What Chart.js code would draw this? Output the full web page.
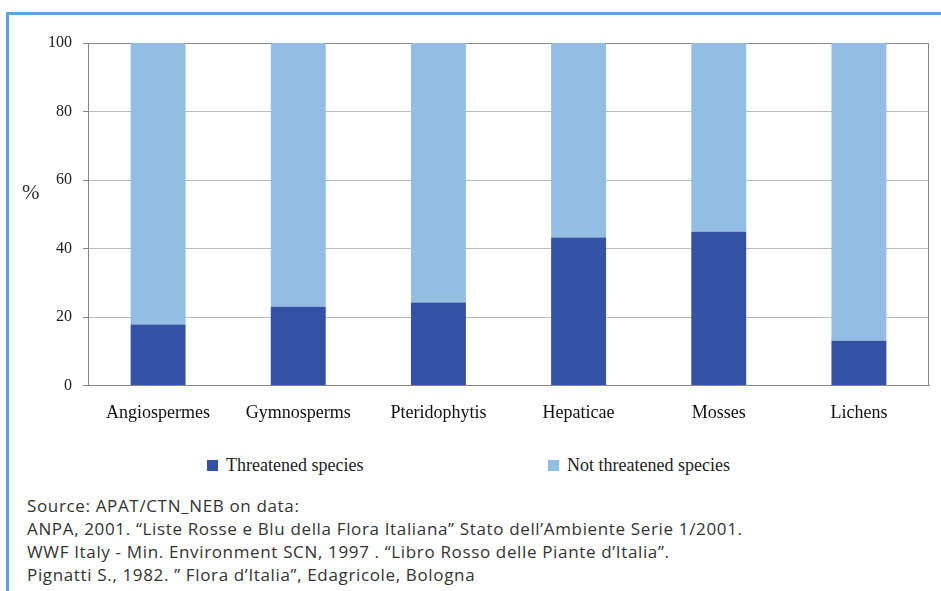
<!DOCTYPE html>
<html>
<head>
<meta charset="utf-8">
<script src="https://cdn.jsdelivr.net/npm/chart.js@4.4.1/dist/chart.umd.min.js"></script>
<style>
body { margin: 0; background: #fff; }
#page { position: relative; width: 941px; height: 591px; overflow: hidden; background: #fff; }
#frameTop { position: absolute; left: 6px; top: 12px; right: 0; height: 3px; background: #5aa5da; }
#frameLeft { position: absolute; left: 6px; top: 12px; bottom: 0; width: 3px; background: #5aa5da; }
#chartBox { position: absolute; left: 0; top: 0; width: 941px; height: 440px; }
#ylab { position: absolute; left: 22px; top: 180px; font: 21px "Liberation Serif", serif; color: #333; }
#legend { position: absolute; left: 0; top: 454px; width: 941px; height: 24px; font: 18px "Liberation Serif", serif; color: #222; }
.item { position: absolute; top: 0; line-height: 22px; white-space: nowrap; }
.box { display: inline-block; width: 11px; height: 11px; margin-right: 8px; vertical-align: 0px; }
#source { position: absolute; left: 27px; top: 494px; font: 17px "Open Sans", sans-serif; letter-spacing: 0.65px; line-height: 23px; color: #333; white-space: nowrap; }
</style>
</head>
<body>
<div id="page">
  <div id="frameTop"></div>
  <div id="frameLeft"></div>
  <div id="chartBox"><canvas id="chart" width="941" height="440"></canvas></div>
  <div id="ylab">%</div>
  <div id="legend"></div>
  <div id="source">
    Source: APAT/CTN_NEB on data:<br>
    ANPA, 2001. “Liste Rosse e Blu della Flora Italiana” Stato dell’Ambiente Serie 1/2001.<br>
    WWF Italy - Min. Environment SCN, 1997 . “Libro Rosso delle Piante d’Italia”.<br>
    Pignatti S., 1982. ” Flora d’Italia”, Edagricole, Bologna
  </div>
</div>
<script>
var categories = ['Angiospermes', 'Gymnosperms', 'Pteridophytis', 'Hepaticae', 'Mosses', 'Lichens'];
var threatened = [17.8, 23.0, 24.2, 43.2, 44.9, 13.1];
var notThreatened = [82.2, 77.0, 75.8, 56.8, 55.1, 86.9];
var seriesNames = ['Threatened species', 'Not threatened species'];
var yMin = 0;
var yMax = 100;
var yStep = 20;

var darkBlue = '#3352a6';
var lightBlue = '#93bee3';

// right edge of the plot frame
var rightFrame = {
	id: 'rightFrame',
	afterDraw: function(chart) {
		var a = chart.chartArea;
		var c = chart.ctx;
		c.save();
		c.strokeStyle = '#888';
		c.lineWidth = 1;
		c.beginPath();
		c.moveTo(a.right - 0.5, a.top);
		c.lineTo(a.right - 0.5, a.bottom);
		c.stroke();
		c.restore();
	}
};

var ctx = document.getElementById('chart').getContext('2d');
var myChart = new Chart(ctx, {
	type: 'bar',
	data: {
		labels: categories,
		datasets: [{
			label: seriesNames[0],
			data: threatened,
			backgroundColor: darkBlue,
			barPercentage: 0.392,
			categoryPercentage: 1
		}, {
			label: seriesNames[1],
			data: notThreatened,
			backgroundColor: lightBlue,
			barPercentage: 0.392,
			categoryPercentage: 1
		}]
	},
	options: {
		responsive: false,
		animation: false,
		layout: { padding: { top: 43, right: 12, left: 0, bottom: 0 } },
		plugins: {
			legend: { display: false },
			tooltip: { enabled: false }
		},
		scales: {
			x: {
				stacked: true,
				grid: { display: false, drawTicks: false },
				border: { display: true, color: '#888', width: 1 },
				ticks: {
					color: '#111',
					padding: 17,
					font: { family: 'Liberation Serif', size: 18 }
				},
				afterFit: function(scale) { scale.height = 54.5; }
			},
			y: {
				stacked: true,
				min: yMin,
				max: yMax,
				grid: {
					color: function(c) { return (c.tick && (c.tick.value === yMax || c.tick.value === yMin)) ? '#888' : '#bbb'; },
					tickColor: '#888',
					tickLength: 5
				},
				border: { color: '#888', width: 1 },
				ticks: {
					stepSize: yStep,
					color: '#222',
					padding: 11,
					font: { family: 'Liberation Serif', size: 16 }
				},
				afterFit: function(scale) { scale.width = 88; }
			}
		}
	},
	plugins: [rightFrame]
});

// legend built from the datasets
var legendX = [207, 548];
var legend = document.getElementById('legend');
myChart.data.datasets.forEach(function(ds, i) {
	var item = document.createElement('div');
	item.className = 'item';
	item.style.left = legendX[i] + 'px';
	item.innerHTML = '<span class="box" style="background:' + ds.backgroundColor + '"></span>' + ds.label;
	legend.appendChild(item);
});
</script>
</body>
</html>
